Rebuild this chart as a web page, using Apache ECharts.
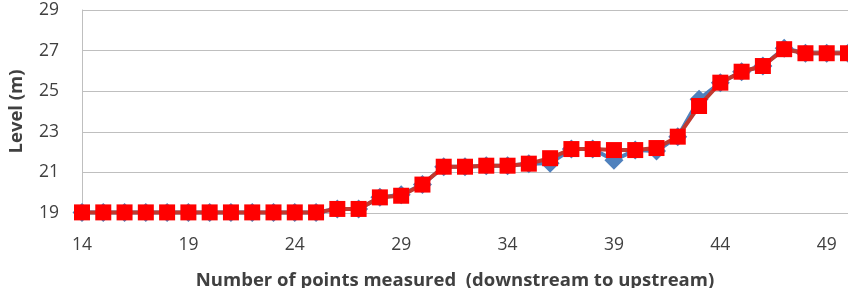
<!DOCTYPE html>
<html>
<head>
<meta charset="utf-8">
<script src="https://cdn.jsdelivr.net/npm/echarts@6/dist/echarts.min.js"></script>
<style>
html,body{margin:0;padding:0;background:#fff;}
#c{width:848px;height:288px;}
</style>
</head>
<body>
<div id="c"></div>
<script>
var points = [14,15,16,17,18,19,20,21,22,23,24,25,26,27,28,29,30,31,32,33,34,35,36,37,38,39,40,41,42,43,44,45,46,47,48,49,50];
var levelBlue = [19.03,19.03,19.03,19.03,19.03,19.03,19.03,19.03,19.03,19.03,19.03,19.03,19.2,19.2,19.77,19.9,20.4,21.28,21.28,21.33,21.33,21.43,21.45,22.15,22.15,21.6,22.1,22.05,22.76,24.6,25.42,25.96,26.24,27.12,26.87,26.87,26.87];
var levelRed  = [19.03,19.03,19.03,19.03,19.03,19.03,19.03,19.03,19.03,19.03,19.03,19.03,19.2,19.2,19.77,19.85,20.4,21.28,21.28,21.33,21.33,21.43,21.7,22.15,22.15,22.1,22.1,22.2,22.76,24.27,25.42,25.96,26.24,27.07,26.87,26.87,26.87];
var xTicks = [14,19,24,29,34,39,44,49];
var yTicks = [19,21,23,25,27,29];

function pairs(vals){ return points.map(function(p,i){ return [p, vals[i]]; }); }

var chart = echarts.init(document.getElementById('c'), null, {renderer:'canvas'});
var font = 'Open Sans';
chart.setOption({
  animation:false,
  grid:{left:82, right:0, top:10, bottom:75, containLabel:false, outerBoundsMode:'none'},
  xAxis:{
    type:'value', min:14, max:50,
    name:'Number of points measured  (downstream to upstream)',
    nameLocation:'middle', nameGap:58,
    nameTextStyle:{fontFamily:font, fontWeight:'bold', fontSize:18.5, color:'#404040', padding:[0,20,0,0]},
    axisLine:{show:true, lineStyle:{color:'#BFBFBF', width:1}},
    axisTick:{show:false},
    splitLine:{show:false},
    axisLabel:{customValues:xTicks, fontFamily:font, fontSize:17.5, color:'#404040', margin:23}
  },
  yAxis:{
    type:'value', min:19, max:29, interval:2,
    name:'Level (m)', nameLocation:'middle', nameGap:56, nameRotate:90,
    nameTextStyle:{fontFamily:font, fontWeight:'bold', fontSize:18.5, color:'#404040'},
    axisLine:{show:true, lineStyle:{color:'#BFBFBF', width:1}},
    axisTick:{show:false},
    splitLine:{show:true, lineStyle:{color:'#BFBFBF', width:1}},
    axisLabel:{customValues:yTicks, fontFamily:font, fontSize:17.5, color:'#404040', margin:23}
  },
  series:[
    {type:'line', data:pairs(levelBlue), symbol:'diamond', symbolSize:19,
     lineStyle:{color:'#4F81BD', width:4}, itemStyle:{color:'#4F81BD'}, clip:false, z:2},
    {type:'line', data:pairs(levelRed), symbol:'rect', symbolSize:16,
     lineStyle:{color:'#C0392F', width:4}, itemStyle:{color:'#FF0000'}, clip:false, z:3}
  ]
});
</script>
</body>
</html>
